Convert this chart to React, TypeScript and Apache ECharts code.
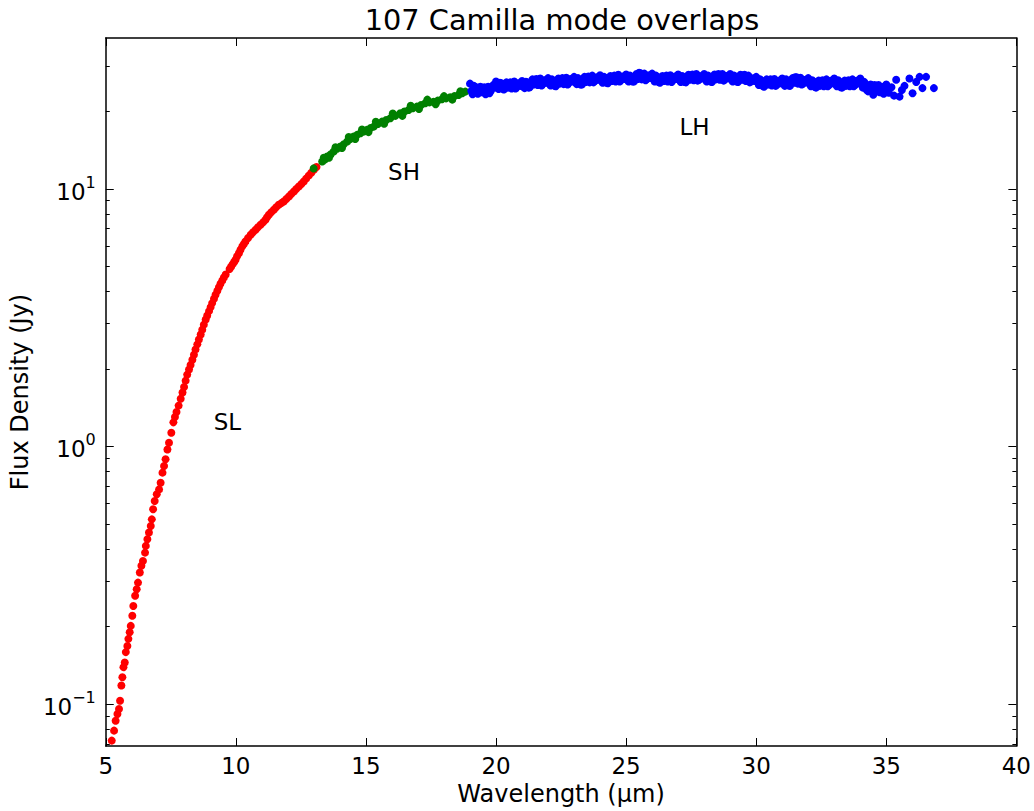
import React, { useEffect, useRef } from "react";
import * as echarts from "echarts";

const TITLE = "107 Camilla mode overlaps";
const X_NAME = "Wavelength (µm)";
const Y_NAME = "Flux Density (Jy)";
const X_MIN = 5;
const X_MAX = 40;
const X_STEP = 5;
const Y_MIN = 0.0687;
const Y_MAX = 38.5;
const yMajorTicks = [0.1, 1, 10];
const yMinorTicks = [0.07, 0.08, 0.09, 0.2, 0.3, 0.4, 0.5, 0.6, 0.7, 0.8, 0.9, 2, 3, 4, 5, 6, 7, 8, 9, 20, 30];

// SL module (red)
const slPoints = [
  [5.23, 0.0721], [5.32, 0.0788], [5.38, 0.0861], [5.45, 0.0915], [5.51, 0.0957], [5.55, 0.103],
  [5.6, 0.118], [5.64, 0.127], [5.68, 0.139], [5.73, 0.145], [5.77, 0.159], [5.83, 0.168],
  [5.87, 0.179], [5.92, 0.19], [5.96, 0.201], [6.02, 0.22], [6.06, 0.24], [6.13, 0.263],
  [6.19, 0.279], [6.24, 0.296], [6.31, 0.324], [6.37, 0.344], [6.43, 0.359], [6.51, 0.387],
  [6.54, 0.411], [6.6, 0.436], [6.66, 0.463], [6.73, 0.491], [6.77, 0.521], [6.82, 0.57],
  [6.88, 0.614], [6.96, 0.652], [7.05, 0.681], [7.11, 0.723], [7.18, 0.791], [7.24, 0.839],
  [7.3, 0.891], [7.37, 0.973], [7.43, 1.033], [7.52, 1.13], [7.6, 1.24], [7.66, 1.3],
  [7.72, 1.36], [7.8, 1.44], [7.88, 1.53], [7.95, 1.62], [8.01, 1.7], [8.07, 1.8],
  [8.13, 1.9], [8.2, 1.99], [8.26, 2.07], [8.33, 2.17], [8.39, 2.27], [8.45, 2.38],
  [8.52, 2.49], [8.58, 2.6], [8.65, 2.72], [8.71, 2.84], [8.77, 2.97], [8.84, 3.11],
  [8.9, 3.22], [8.97, 3.35], [9.03, 3.47], [9.09, 3.6], [9.16, 3.74], [9.22, 3.88],
  [9.29, 4.02], [9.35, 4.15], [9.41, 4.28], [9.48, 4.41], [9.54, 4.53], [9.61, 4.65],
  [9.76, 4.88], [9.82, 4.99], [9.88, 5.1], [9.94, 5.21], [9.99, 5.31], [10.05, 5.47],
  [10.12, 5.63], [10.18, 5.8], [10.25, 5.98], [10.31, 6.11], [10.37, 6.25], [10.47, 6.44],
  [10.57, 6.63], [10.66, 6.78], [10.76, 6.94], [10.85, 7.09], [10.95, 7.25], [11.05, 7.42],
  [11.14, 7.58], [11.2, 7.76], [11.27, 7.93], [11.36, 8.11], [11.46, 8.29], [11.55, 8.48],
  [11.65, 8.67], [11.75, 8.8], [11.84, 8.93], [11.94, 9.13], [12.04, 9.34], [12.13, 9.55],
  [12.23, 9.76], [12.32, 9.99], [12.42, 10.21], [12.52, 10.44], [12.61, 10.67], [12.7, 10.95],
  [12.8, 11.25], [12.9, 11.55], [13.0, 11.85], [13.1, 12.15],
];

// SH module (green)
const shPoints = [
  [12.99, 12.0], [13.32, 12.76], [13.38, 13.2], [13.42, 13.0], [13.51, 13.34], [13.58, 13.2],
  [13.64, 13.6], [13.76, 13.95], [13.83, 14.5], [13.89, 14.3], [14.02, 14.59], [14.08, 14.4],
  [14.15, 14.9], [14.28, 15.26], [14.34, 15.9], [14.4, 15.6], [14.53, 15.95], [14.59, 15.6],
  [14.66, 16.2], [14.79, 16.44], [14.85, 17.0], [14.92, 16.7], [15.04, 16.93], [15.1, 16.6],
  [15.17, 17.2], [15.3, 17.44], [15.38, 18.2], [15.46, 17.85], [15.62, 18.23], [15.7, 17.9],
  [15.78, 18.5], [15.94, 18.79], [16.03, 19.6], [16.13, 19.2], [16.32, 19.65], [16.4, 19.2],
  [16.48, 19.95], [16.64, 20.24], [16.72, 21.0], [16.8, 20.55], [16.96, 20.84], [17.04, 20.4],
  [17.12, 21.15], [17.28, 21.48], [17.36, 22.2], [17.44, 21.65], [17.6, 21.79], [17.68, 21.3],
  [17.76, 22.0], [17.92, 22.26], [18.0, 22.9], [18.08, 22.45], [18.24, 22.66], [18.32, 22.2],
  [18.4, 22.9], [18.56, 23.13], [18.63, 23.9], [18.7, 23.5], [18.82, 23.84],
];

// LH module (blue)
const lhPoints = [
  [19.0, 25.6], [19.1, 23.3], [19.2, 24.9], [19.3, 23.4], [19.4, 24.9], [19.5, 23.8], [19.6, 23.3], [19.7, 24.9], [19.8, 24.0], [19.9, 25.3],
  [20.0, 26.1], [20.1, 24.4], [20.2, 25.7], [20.3, 24.3], [20.4, 25.9], [20.5, 24.9], [20.6, 24.5], [20.7, 26.1], [20.8, 24.8], [20.9, 25.7],
  [21.0, 26.2], [21.1, 24.6], [21.2, 25.9], [21.3, 24.8], [21.4, 26.6], [21.5, 25.7], [21.6, 25.3], [21.7, 26.8], [21.8, 25.5], [21.9, 26.4],
  [22.0, 26.9], [22.1, 25.2], [22.2, 26.3], [22.3, 25.0], [22.4, 26.8], [22.5, 25.9], [22.6, 25.5], [22.7, 27.0], [22.8, 25.8], [22.9, 26.7],
  [23.0, 27.2], [23.1, 25.5], [23.2, 26.6], [23.3, 25.4], [23.4, 27.2], [23.5, 26.3], [23.6, 25.9], [23.7, 27.5], [23.8, 26.2], [23.9, 27.1],
  [24.0, 27.6], [24.1, 25.8], [24.2, 27.0], [24.3, 25.7], [24.4, 27.4], [24.5, 26.5], [24.6, 26.1], [24.7, 27.7], [24.8, 26.4], [24.9, 27.3],
  [25.0, 27.8], [25.1, 26.1], [25.2, 27.3], [25.3, 26.1], [25.4, 27.9], [25.5, 28.2], [25.6, 26.6], [25.7, 28.0], [25.8, 26.7], [25.9, 27.5],
  [26.0, 28.0], [26.1, 26.1], [26.2, 27.2], [26.3, 25.8], [26.4, 27.4], [26.5, 26.5], [26.6, 26.1], [26.7, 27.6], [26.8, 26.4], [26.9, 27.3],
  [27.0, 27.8], [27.1, 26.0], [27.2, 27.2], [27.3, 25.9], [27.4, 27.7], [27.5, 26.8], [27.6, 26.4], [27.7, 27.9], [27.8, 26.5], [27.9, 27.4],
  [28.0, 27.9], [28.1, 26.1], [28.2, 27.3], [28.3, 26.0], [28.4, 27.8], [28.5, 26.9], [28.6, 26.5], [28.7, 27.9], [28.8, 26.6], [28.9, 27.4],
  [29.0, 27.9], [29.1, 26.1], [29.2, 27.3], [29.3, 26.0], [29.4, 27.7], [29.5, 26.8], [29.6, 26.2], [29.7, 27.5], [29.8, 26.1], [29.9, 26.8],
  [30.0, 27.2], [30.1, 25.3], [30.2, 26.3], [30.3, 24.9], [30.4, 26.6], [30.5, 25.6], [30.6, 25.2], [30.7, 26.7], [30.8, 25.4], [30.9, 26.3],
  [31.0, 26.8], [31.1, 25.1], [31.2, 26.3], [31.3, 25.1], [31.4, 26.9], [31.5, 27.1], [31.6, 25.6], [31.7, 27.0], [31.8, 25.6], [31.9, 26.5],
  [32.0, 26.9], [32.1, 25.0], [32.2, 26.1], [32.3, 24.7], [32.4, 26.3], [32.5, 25.4], [32.6, 25.0], [32.7, 26.6], [32.8, 25.3], [32.9, 26.3],
  [33.0, 26.8], [33.1, 25.0], [33.2, 26.0], [33.3, 24.7], [33.4, 26.3], [33.5, 25.4], [33.6, 25.0], [33.7, 26.6], [33.8, 25.3], [33.9, 26.3],
  [34.0, 26.8], [34.1, 24.7], [34.2, 25.5], [34.3, 23.9], [34.4, 25.4], [34.5, 24.3], [34.6, 23.8], [34.7, 25.3], [34.8, 24.0], [34.9, 24.9],
  [35.0, 25.4], [34.5, 23.2], [34.9, 23.4], [35.1, 23.6], [35.2, 24.8], [35.3, 23.0], [35.38, 26.5], [35.51, 22.8], [35.6, 24.2], [35.7, 25.1],
  [35.89, 26.8], [36.01, 23.5], [36.15, 26.0], [36.28, 27.2], [36.39, 24.6], [36.53, 27.2], [36.83, 24.6],
  [19.05, 24.0], [19.15, 25.1], [19.25, 23.7], [19.35, 24.6], [19.45, 23.7], [19.55, 24.8], [19.65, 24.0], [19.75, 23.5], [19.85, 24.8], [19.95, 24.7],
  [20.05, 24.8], [20.15, 25.8], [20.25, 24.5], [20.35, 25.5], [20.45, 24.7], [20.55, 25.9], [20.65, 25.2], [20.75, 24.5], [20.85, 25.6], [20.95, 25.1],
  [21.05, 24.9], [21.15, 26.0], [21.25, 24.7], [21.35, 26.0], [21.45, 25.4], [21.55, 26.7], [21.65, 26.0], [21.75, 25.2], [21.85, 26.3], [21.95, 25.8],
  [22.05, 25.6], [22.15, 26.6], [22.25, 25.1], [22.35, 26.2], [22.45, 25.6], [22.55, 26.9], [22.65, 26.2], [22.75, 25.4], [22.85, 26.6], [22.95, 26.1],
  [23.05, 25.9], [23.15, 26.9], [23.25, 25.4], [23.35, 26.6], [23.45, 26.0], [23.55, 27.3], [23.65, 26.6], [23.75, 25.9], [23.85, 27.0], [23.95, 26.5],
  [24.05, 26.3], [24.15, 27.2], [24.25, 25.8], [24.35, 26.9], [24.45, 26.2], [24.55, 27.5], [24.65, 26.8], [24.75, 26.1], [24.85, 27.2], [24.95, 26.7],
  [25.05, 26.5], [25.15, 27.5], [25.25, 26.1], [25.35, 27.3], [25.45, 26.7], [25.55, 28.1], [25.65, 27.3], [25.75, 26.4], [25.85, 27.5], [25.95, 26.9],
  [26.05, 26.7], [26.15, 27.5], [26.25, 26.0], [26.35, 27.0], [26.45, 26.2], [26.55, 27.5], [26.65, 26.8], [26.75, 26.0], [26.85, 27.2], [26.95, 26.7],
  [27.05, 26.5], [27.15, 27.4], [27.25, 26.0], [27.35, 27.1], [27.45, 26.5], [27.55, 27.8], [27.65, 27.1], [27.75, 26.3], [27.85, 27.3], [27.95, 26.8],
  [28.05, 26.6], [28.15, 27.5], [28.25, 26.1], [28.35, 27.2], [28.45, 26.6], [28.55, 27.9], [28.65, 27.2], [28.75, 26.3], [28.85, 27.4], [28.95, 26.8],
  [29.05, 26.6], [29.15, 27.5], [29.25, 26.1], [29.35, 27.2], [29.45, 26.5], [29.55, 27.7], [29.65, 26.8], [29.75, 25.9], [29.85, 26.8], [29.95, 26.2],
  [30.05, 25.9], [30.15, 26.6], [30.25, 25.1], [30.35, 26.1], [30.45, 25.4], [30.55, 26.6], [30.65, 25.9], [30.75, 25.1], [30.85, 26.2], [30.95, 25.7],
  [31.05, 25.6], [31.15, 26.6], [31.25, 25.2], [31.35, 26.4], [31.45, 25.8], [31.55, 27.1], [31.65, 26.3], [31.75, 25.4], [31.85, 26.4], [31.95, 25.9],
  [32.05, 25.6], [32.15, 26.4], [32.25, 24.9], [32.35, 25.9], [32.45, 25.1], [32.55, 26.4], [32.65, 25.8], [32.75, 25.0], [32.85, 26.2], [32.95, 25.7],
  [33.05, 25.5], [33.15, 26.4], [33.25, 24.8], [33.35, 25.9], [33.45, 25.1], [33.55, 26.4], [33.65, 25.8], [33.75, 25.0], [33.85, 26.2], [33.95, 25.7],
  [34.05, 25.4], [34.15, 26.0], [34.25, 24.2], [34.35, 25.0], [34.45, 24.1], [34.55, 25.3], [34.65, 24.5], [34.75, 23.7], [34.85, 24.8], [34.95, 24.3],
];

const annotations = [
  { name: "SL", value: [9.15, 1.17] },
  { name: "SH", value: [15.85, 11.0] },
  { name: "LH", value: [27.05, 16.4] },
];

const FONT = "'DejaVu Sans', 'Noto Sans', sans-serif";

export default function App() {
  const ref = useRef<HTMLDivElement>(null);
  useEffect(() => {
    if (!ref.current) return;
    const chart = echarts.init(ref.current, null, { renderer: "svg" });
    const supLabel = (v: number) => {
      const e = Math.round(Math.log10(v));
      const s = e < 0 ? "\u2212" + -e : String(e);
      return `{b|10}{s|${s}}`;
    };
    const rich = {
      b: { fontSize: 23, fontFamily: FONT, color: "#000", padding: [6, 0, 0, 0] },
      s: { fontSize: 16, fontFamily: FONT, color: "#000", verticalAlign: "top" },
    };
    const lineStyle = { color: "#000", width: 1.5 };
    const yBase = {
      type: "log",
      logBase: 10,
      min: Y_MIN,
      max: Y_MAX,
      splitLine: { show: false },
    };
    const dot = (color: string) => ({ color, opacity: 1 });
    chart.setOption({
      animation: false,
      backgroundColor: "#fff",
      title: {
        text: TITLE,
        left: 557,
        textAlign: "center",
        top: 0,
        textStyle: { fontFamily: FONT, fontSize: 28.8, fontWeight: "normal", color: "#000" },
      },
      grid: { left: 105, right: 17, top: 38, bottom: 65, containLabel: false },
      xAxis: [
        {
          type: "value",
          min: X_MIN,
          max: X_MAX,
          interval: X_STEP,
          position: "bottom",
          name: X_NAME,
          nameLocation: "middle",
          nameGap: 36,
          nameTextStyle: { fontFamily: FONT, fontSize: 24, color: "#000" },
          axisLine: { onZero: false, lineStyle },
          axisTick: { inside: true, length: 8, lineStyle: { color: "#000", width: 1 } },
          axisLabel: { fontFamily: FONT, fontSize: 23, color: "#000", margin: 8 },
          splitLine: { show: false },
        },
        {
          type: "value",
          min: X_MIN,
          max: X_MAX,
          interval: X_STEP,
          position: "top",
          axisLine: { onZero: false, lineStyle },
          axisTick: { inside: true, length: 8, lineStyle: { color: "#000", width: 1 } },
          axisLabel: { show: false },
          splitLine: { show: false },
        },
      ],
      yAxis: [
        {
          ...yBase,
          position: "left",
          name: Y_NAME,
          nameLocation: "middle",
          nameGap: 68,
          nameRotate: 90,
          nameTextStyle: { fontFamily: FONT, fontSize: 24, color: "#000" },
          axisLine: { show: true, lineStyle },
          axisTick: { show: true, inside: true, length: 8, customValues: yMajorTicks, lineStyle: { color: "#000", width: 1 } },
          axisLabel: { show: true, customValues: yMajorTicks, formatter: supLabel, rich, margin: 10 },
        },
        {
          ...yBase,
          position: "left",
          axisLine: { show: false },
          axisTick: { show: true, inside: true, length: 4, customValues: yMinorTicks, lineStyle: { color: "#000", width: 1 } },
          axisLabel: { show: false },
        },
        {
          ...yBase,
          position: "right",
          axisLine: { show: true, lineStyle },
          axisTick: { show: true, inside: true, length: 8, customValues: yMajorTicks, lineStyle: { color: "#000", width: 1 } },
          axisLabel: { show: false },
        },
        {
          ...yBase,
          position: "right",
          axisLine: { show: false },
          axisTick: { show: true, inside: true, length: 4, customValues: yMinorTicks, lineStyle: { color: "#000", width: 1 } },
          axisLabel: { show: false },
        },
      ],
      series: [
        {
          name: "SL",
          type: "scatter",
          xAxisIndex: 0,
          yAxisIndex: 0,
          symbol: "circle",
          symbolSize: 8,
          itemStyle: dot("#ff0000"),
          data: slPoints,
        },
        {
          name: "SH",
          type: "scatter",
          xAxisIndex: 0,
          yAxisIndex: 0,
          symbol: "circle",
          symbolSize: 8,
          itemStyle: dot("#008000"),
          data: shPoints,
        },
        {
          name: "LH",
          type: "scatter",
          xAxisIndex: 0,
          yAxisIndex: 0,
          symbol: "circle",
          symbolSize: 8,
          itemStyle: dot("#0000ff"),
          data: lhPoints,
        },
        {
          name: "labels",
          type: "scatter",
          xAxisIndex: 0,
          yAxisIndex: 0,
          symbolSize: 0,
          silent: true,
          itemStyle: { color: "#000" },
          data: annotations,
          label: {
            show: true,
            formatter: "{b}",
            position: [0, 5],
            align: "left",
            verticalAlign: "bottom",
            fontFamily: FONT,
            fontSize: 23,
            color: "#000",
            textBorderWidth: 0,
            textBorderColor: "transparent",
            opacity: 1,
          },
        },
      ],
    });
    return () => chart.dispose();
  }, []);
  return (
    <div
      ref={ref}
      style={{ position: "fixed", left: 0, top: 0, width: 1034, height: 811, background: "#fff" }}
    />
  );
}
